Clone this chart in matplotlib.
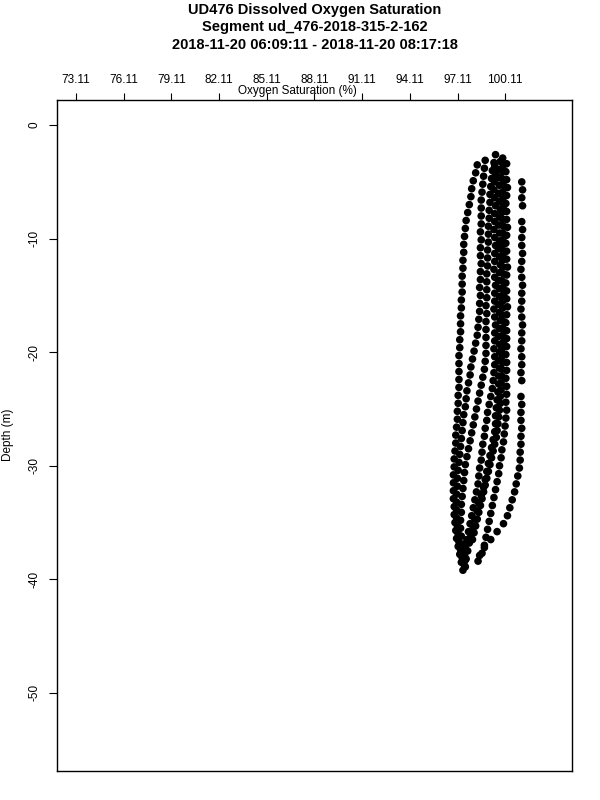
import matplotlib
matplotlib.use("Agg")
import matplotlib.pyplot as plt

# dive profiles: depth (m) and oxygen saturation (%)
depth_a = [-5.0, -5.7, -6.4, -7.1, -8.5, -9.2, -9.9, -10.6, -11.3, -12.0, -12.7, -13.4, -14.1, -14.8,
           -15.5, -16.2, -16.9, -17.6, -18.3, -19.0, -19.7, -20.4, -21.1, -21.8, -22.5, -23.9, -24.6,
           -25.3, -26.0, -26.7, -27.4, -28.1, -28.8, -29.5, -30.2, -30.9, -31.6, -32.3, -33.0, -33.7,
           -34.4, -35.1, -35.8, -36.5, -37.2, -37.9]
oxy_a = [101.15, 101.2, 101.15, 101.2, 101.15, 101.2, 101.15, 101.15, 101.2, 101.15, 101.1, 101.15,
         101.2, 101.15, 101.15, 101.1, 101.15, 101.2, 101.15, 101.15, 101.1, 101.15, 101.15, 101.1,
         101.15, 101.1, 101.15, 101.1, 101.1, 101.15, 101.1, 101.1, 101.05, 101.05, 101.0, 100.9,
         100.8, 100.7, 100.55, 100.4, 100.25, 100.0, 99.6, 99.2, 98.8, 98.5]

depth_b = [-3.5, -4.2, -4.9, -5.6, -6.3, -7.0, -7.7, -8.4, -9.1, -9.8, -10.5, -11.2, -11.9, -12.6,
           -13.3, -14.0, -14.7, -15.4, -16.1, -16.8, -17.5, -18.2, -18.9, -19.6, -20.3, -21.0, -21.7,
           -22.4, -23.1, -23.8, -24.5, -25.2, -25.9, -26.6, -27.3, -28.0, -28.7, -29.4, -30.1, -30.8,
           -31.5, -32.2, -32.9, -33.6, -34.3, -35.0, -35.7, -36.4, -37.1, -37.8, -38.5, -39.2]
oxy_b = [98.35, 98.25, 98.1, 98.0, 97.95, 97.85, 97.75, 97.65, 97.6, 97.55, 97.5, 97.5, 97.45, 97.45,
         97.4, 97.4, 97.4, 97.35, 97.35, 97.3, 97.3, 97.3, 97.25, 97.25, 97.2, 97.2, 97.2, 97.2, 97.2,
         97.15, 97.15, 97.1, 97.1, 97.05, 97.0, 97.0, 96.95, 96.9, 96.9, 96.85, 96.85, 96.85, 96.85,
         96.9, 96.9, 96.95, 97.0, 97.05, 97.15, 97.25, 97.35, 97.45]

depth_c = [-3.1, -3.8, -4.5, -5.2, -5.9, -6.6, -7.3, -8.0, -8.7, -9.4, -10.1, -10.8, -11.5, -12.2,
           -12.9, -13.6, -14.3, -15.0, -15.7, -16.4, -17.1, -17.8, -18.5, -19.2, -19.9, -20.6, -21.3,
           -22.0, -22.7, -23.4, -24.1, -24.8, -25.5, -26.2, -26.9, -27.6, -28.3, -29.0, -29.7, -30.4,
           -31.1, -31.8, -32.5, -33.2, -33.9, -34.6, -35.3, -36.0, -36.7, -37.4, -38.1, -38.8]
oxy_c = [98.85, 98.8, 98.75, 98.7, 98.65, 98.6, 98.6, 98.6, 98.6, 98.55, 98.6, 98.55, 98.55, 98.6,
         98.55, 98.55, 98.5, 98.55, 98.5, 98.5, 98.45, 98.4, 98.35, 98.25, 98.15, 98.05, 97.95, 97.9,
         97.8, 97.7, 97.65, 97.6, 97.5, 97.45, 97.4, 97.35, 97.3, 97.25, 97.2, 97.15, 97.1, 97.1,
         97.05, 97.05, 97.05, 97.05, 97.1, 97.15, 97.2, 97.3, 97.4, 97.55]

depth_d = [-2.6, -3.3, -4.0, -4.7, -5.4, -6.1, -6.8, -7.5, -8.2, -8.9, -9.6, -10.3, -11.0, -11.7,
           -12.4, -13.1, -13.8, -14.5, -15.2, -15.9, -16.6, -17.3, -18.0, -18.7, -19.4, -20.1, -20.8,
           -21.5, -22.2, -22.9, -23.6, -24.3, -25.0, -25.7, -26.4, -27.1, -27.8, -28.5, -29.2, -29.9,
           -30.6, -31.3, -32.0, -32.7, -33.4, -34.1, -34.8, -35.5, -36.2, -36.9, -37.6, -38.3]
oxy_d = [99.5, 99.4, 99.3, 99.25, 99.2, 99.15, 99.15, 99.1, 99.1, 99.05, 99.05, 99.05, 99.0, 99.0,
         99.0, 98.95, 98.95, 98.95, 98.95, 98.9, 98.95, 98.9, 98.9, 98.9, 98.9, 98.9, 98.85, 98.8,
         98.7, 98.6, 98.5, 98.4, 98.3, 98.2, 98.1, 98.0, 97.9, 97.8, 97.7, 97.6, 97.55, 97.5, 97.45,
         97.4, 97.35, 97.35, 97.3, 97.3, 97.35, 97.4, 97.5, 97.6]

depth_e = [-3.2, -3.9, -4.6, -5.3, -6.0, -6.7, -7.4, -8.1, -8.8, -9.5, -10.2, -10.9, -11.6, -12.3,
           -13.0, -13.7, -14.4, -15.1, -15.8, -16.5, -17.2, -17.9, -18.6, -19.3, -20.0, -20.7, -21.4,
           -22.1, -22.8, -23.5, -24.2, -24.9, -25.6, -26.3, -27.0, -27.7, -28.4, -29.1, -29.8, -30.5,
           -31.2, -31.9, -32.6, -33.3, -34.0, -34.7, -35.4, -36.1, -36.8, -37.5, -38.2, -38.9]
oxy_e = [99.8, 99.75, 99.7, 99.75, 99.7, 99.75, 99.8, 99.75, 99.7, 99.75, 99.75, 99.7, 99.75, 99.8,
         99.75, 99.7, 99.75, 99.75, 99.7, 99.75, 99.8, 99.75, 99.7, 99.75, 99.75, 99.7, 99.75, 99.7,
         99.7, 99.65, 99.6, 99.55, 99.5, 99.5, 99.45, 99.35, 99.25, 99.15, 99.05, 98.95, 98.85, 98.75,
         98.6, 98.45, 98.35, 98.2, 98.1, 97.95, 97.85, 97.75, 97.65, 97.6]

depth_f = [-3.4, -4.1, -4.8, -5.5, -6.2, -6.9, -7.6, -8.3, -9.0, -9.7, -10.4, -11.1, -11.8, -12.5,
           -13.2, -13.9, -14.6, -15.3, -16.0, -16.7, -17.4, -18.1, -18.8, -19.5, -20.2, -20.9, -21.6,
           -22.3, -23.0, -23.7, -24.4, -25.1, -25.8, -26.5, -27.2, -27.9, -28.6, -29.3, -30.0, -30.7,
           -31.4, -32.1, -32.8, -33.5, -34.2, -34.9, -35.6, -36.3, -37.0, -37.7, -38.4]
oxy_f = [100.2, 100.15, 100.2, 100.25, 100.2, 100.15, 100.2, 100.2, 100.25, 100.2, 100.15, 100.2,
         100.2, 100.25, 100.2, 100.15, 100.2, 100.2, 100.25, 100.2, 100.15, 100.2, 100.2, 100.2,
         100.15, 100.2, 100.2, 100.15, 100.2, 100.2, 100.15, 100.2, 100.15, 100.1, 100.05, 100.0,
         99.9, 99.85, 99.75, 99.7, 99.6, 99.5, 99.4, 99.3, 99.2, 99.1, 99.0, 98.9, 98.8, 98.65, 98.4]

depth_g = [-3.6, -4.3, -5.0, -5.7, -6.4, -7.1, -7.8, -8.5, -9.2, -9.9, -10.6, -11.3, -12.0, -12.7,
           -13.4, -14.1, -14.8, -15.5, -16.2, -16.9, -17.6, -18.3, -19.0, -19.7, -20.4, -21.1, -21.8,
           -22.5, -23.2, -23.9, -24.6, -25.3, -26.0, -26.7, -27.4, -28.1, -28.8, -29.5, -30.2, -30.9,
           -31.6, -32.3, -33.0, -33.7, -34.4, -35.1, -35.8, -36.5, -37.2, -37.9]
oxy_g = [99.45, 99.5, 99.45, 99.4, 99.45, 99.5, 99.45, 99.45, 99.4, 99.45, 99.5, 99.45, 99.45,
         99.4, 99.45, 99.5, 99.45, 99.45, 99.4, 99.45, 99.5, 99.45, 99.45, 99.4, 99.45, 99.45, 99.4,
         99.35, 99.3, 99.2, 99.1, 99.0, 98.95, 98.85, 98.8, 98.7, 98.65, 98.6, 98.5, 98.45, 98.4, 98.3,
         98.2, 98.1, 98.0, 97.9, 97.8, 97.7, 97.6, 97.55]

depth_h = [-2.9, -3.5, -4.1, -4.7, -5.3, -5.9, -6.5, -7.1, -7.7, -8.3, -8.9, -9.5, -10.1, -10.7,
           -11.3, -11.9, -12.5, -13.1, -13.7, -14.3, -14.9, -15.5, -16.1, -16.7, -17.3, -17.9, -18.5,
           -19.1, -19.7, -20.3, -20.9, -21.5, -22.1, -22.7, -23.3, -23.9, -24.5, -25.1, -25.7, -26.3,
           -26.9, -27.5, -28.1, -28.7, -29.3, -29.9, -30.5, -31.1, -31.7, -32.3, -32.9, -33.5, -34.1,
           -34.7, -35.3, -35.9, -36.5]
oxy_h = [99.95, 100.0, 99.95, 99.9, 100.0, 99.95, 99.95, 100.0, 99.9, 99.95, 100.0, 99.95, 99.95,
         99.9, 100.0, 99.95, 99.95, 100.0, 99.9, 99.95, 100.0, 99.95, 99.95, 99.9, 100.0, 99.95, 99.95,
         100.0, 99.9, 99.95, 99.95, 99.9, 99.9, 99.85, 99.85, 99.8, 99.8, 99.75, 99.7, 99.65, 99.6,
         99.55, 99.45, 99.35, 99.25, 99.15, 99.05, 98.95, 98.85, 98.75, 98.65, 98.55, 98.45, 98.35,
         98.25, 98.15, 98.05]

depths = [depth_a, depth_b, depth_c, depth_d, depth_e, depth_f, depth_g, depth_h]
oxygen = [oxy_a, oxy_b, oxy_c, oxy_d, oxy_e, oxy_f, oxy_g, oxy_h]

xticks = [73.11, 76.11, 79.11, 82.11, 85.11, 88.11, 91.11, 94.11, 97.11, 100.11]
yticks = [0, -10, -20, -30, -40, -50]

plt.rcParams['font.family'] = ['Liberation Sans', 'DejaVu Sans']

fig = plt.figure(figsize=(6, 8), dpi=100)
ax = fig.add_axes([0.095, 0.036, 0.8583, 0.8388])

for d, o in zip(depths, oxygen):
    ax.scatter(o, d, s=30, c='black', edgecolors='none')

ax.set_xlim(71.91, 104.31)
ax.set_ylim(-56.9, 2.2)
ax.xaxis.tick_top()
ax.set_xticks(xticks)
ax.set_xticklabels(['%.2f' % v for v in xticks])
ax.set_yticks(yticks)
ax.set_yticklabels([str(v) for v in yticks], rotation=90, va='center')
ax.tick_params(axis='x', length=5, pad=5, labelsize=8.5)
ax.tick_params(axis='y', length=6, pad=6, labelsize=8.5)
for sp in ax.spines.values():
    sp.set_linewidth(1.0)

fig.text(0.525, 0.988, 'UD476 Dissolved Oxygen Saturation', ha='center', va='center',
         fontsize=10.5, fontweight='bold')
fig.text(0.525, 0.966, 'Segment ud_476-2018-315-2-162', ha='center', va='center',
         fontsize=10.5, fontweight='bold')
fig.text(0.525, 0.944, '2018-11-20 06:09:11 - 2018-11-20 08:17:18', ha='center', va='center',
         fontsize=10.5, fontweight='bold')
fig.text(0.495, 0.886, 'Oxygen Saturation (%)', ha='center', va='center', fontsize=8.5)
fig.text(0.014, 0.456, 'Depth (m)', ha='center', va='center', rotation=90, fontsize=8.5)

fig.savefig('out.png', dpi=100)
